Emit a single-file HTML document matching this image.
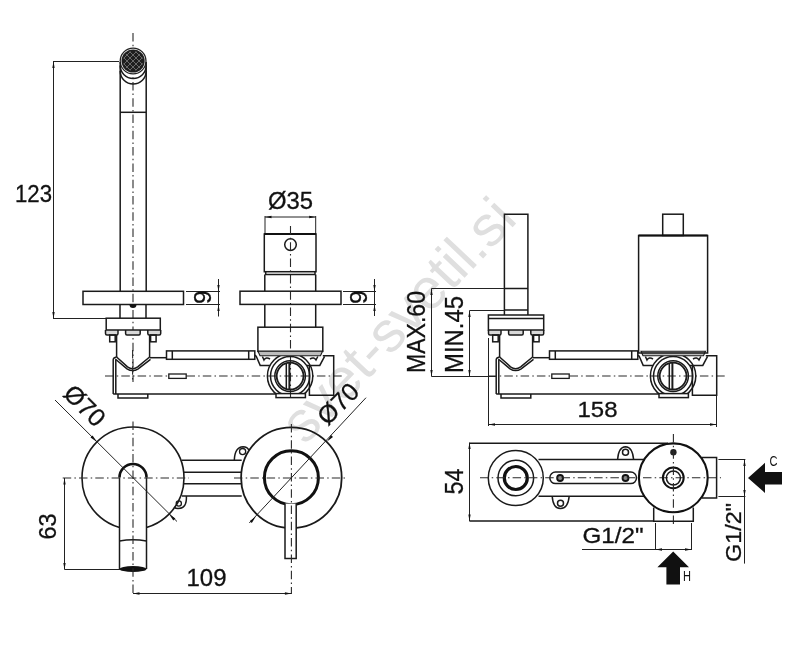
<!DOCTYPE html>
<html><head><meta charset="utf-8">
<style>
html,body{margin:0;padding:0;background:#fff;}
body{width:796px;height:649px;overflow:hidden;}
svg{display:block;filter:grayscale(1);}
.o{stroke:#1a1a1a;stroke-width:1.5;fill:none;}
.t{stroke:#1c1c1c;stroke-width:2.4;fill:none;}
.d{stroke:#222;stroke-width:1;fill:none;}
.c{stroke:#2a2a2a;stroke-width:1.1;fill:none;stroke-dasharray:8.5 3.2 1.5 3.1;}
.a{fill:#111;stroke:none;}
text{font-family:"Liberation Sans",sans-serif;fill:#111;stroke:#111;stroke-width:0.3;}
.wm{font-family:"Liberation Sans",sans-serif;fill:#dfdfdf;stroke:none;}
</style></head>
<body>
<svg width="796" height="649" viewBox="0 0 796 649">
<defs><clipPath id="aclip"><circle cx="133.1" cy="61" r="10"/></clipPath><clipPath id="vclip"><rect x="260" y="356" width="60" height="38"/></clipPath></defs>
<rect x="0" y="0" width="796" height="649" fill="#fff"/>

<!-- watermark -->
<text class="wm" x="0" y="0" font-size="57" transform="translate(305,446) rotate(-46.5)">svet-svetil.si</text>

<!-- ================= FRONT VIEW : SPOUT ================= -->
<g id="spout">
  <!-- 123 dimension -->
  <line class="d" x1="53.5" y1="62" x2="53.5" y2="318"/>
  <line class="d" x1="53" y1="61.5" x2="119" y2="61.5"/>
  <line class="d" x1="53" y1="318.5" x2="106" y2="318.5"/>
  <path class="a" d="M53.5 61.5 L52.35 68.00 L54.65 68.00 Z"/>
  <path class="a" d="M53.5 318.5 L52.35 312.00 L54.65 312.00 Z"/>
  <text x="15" y="201.5" font-size="23" textLength="37" lengthAdjust="spacingAndGlyphs">123</text>
  <!-- centerline -->
  <line class="c" x1="133" y1="33" x2="133" y2="382"/>
  <!-- aerator -->
  <circle cx="133.1" cy="61" r="12.9" fill="#fff" stroke="#222" stroke-width="1.3"/>
  <circle cx="133.1" cy="61" r="11.6" fill="#1e1e1e"/>
  <g clip-path="url(#aclip)" stroke="#8a8a8a" stroke-width="0.7">
    <path d="M110 50 L145 85 M113 47 L148 82 M116 44 L151 79 M119 41 L154 76 M122 38 L157 73 M107 53 L142 88 M104 56 L139 91 M101 59 L136 94 M125 35 L160 70"/>
    <path d="M156 50 L121 85 M153 47 L118 82 M150 44 L115 79 M147 41 L112 76 M144 38 L109 73 M159 53 L124 88 M162 56 L127 91 M165 59 L130 94 M141 35 L106 70"/>
  </g>
  
  <path class="o" d="M120.2 62 L120.2 291 M146.2 62 L146.2 291"/>
  <path class="o" d="M120.2 65.5 A13 13 0 0 0 146.2 65.5"/>
  <path class="o" d="M120.2 71 A13 13 0 0 0 146.2 71"/>
  <line class="o" x1="120" y1="112.3" x2="146" y2="112.3"/>
  <!-- plate -->
  <rect class="o" x="83" y="291.3" width="100.5" height="13.2"/>
  <path class="a" d="M129.5 304.5 A3.5 3.5 0 0 0 136.5 304.5 Z"/>
  <path class="o" d="M120 304.5 L120 318 M146 304.5 L146 318"/>
  <!-- 9 dim -->
  <path class="d" d="M186 291.5 L220 291.5 M186 304.5 L220 304.5 M218.5 279 L218.5 316.5"/>
  <path class="a" d="M218.5 291.5 L217.35 285.00 L219.65 285.00 Z M218.5 304.5 L217.35 311.00 L219.65 311.00 Z"/>
  <text x="0" y="0" font-size="24.5" transform="translate(211,304) rotate(-90)">9</text>
</g>

<!-- ================= FRONT VIEW : HANDLE ================= -->
<g id="handle">
  <text x="268" y="208.7" font-size="23" textLength="45" lengthAdjust="spacingAndGlyphs">Ø35</text>
  <path class="d" d="M265 216 L265 234 M315.7 216 L315.7 234 M265 217 L315.7 217"/>
  <path class="a" d="M265 217 L271.5 215.85 L271.5 218.15 Z M315.7 217 L309.2 215.85 L309.2 218.15 Z"/>
  <rect class="o" x="264.3" y="234" width="51.7" height="37.7"/>
  <line x1="264.3" y1="234" x2="316" y2="234" stroke="#111" stroke-width="2"/>
  <circle class="o" cx="290.5" cy="244.6" r="5.8"/>
  <line class="c" x1="290.5" y1="226" x2="290.5" y2="398"/>
  <path class="o" d="M265.7 271.7 L265.7 274.5 L315 274.5 L315 271.7"/>
  <path class="o" d="M264.8 274.5 L264.8 291.2 M315.7 274.5 L315.7 291.2 M264.8 304.4 L264.8 327.2 M315.7 304.4 L315.7 327.2"/>
  <rect class="o" x="240" y="291.2" width="101" height="13.2"/>
  <path class="d" d="M343 291.5 L376 291.5 M343 304.5 L376 304.5 M374.5 279 L374.5 316"/>
  <path class="a" d="M374.5 291.5 L373.35 285.00 L375.65 285.00 Z M374.5 304.5 L373.35 311.00 L375.65 311.00 Z"/>
  <text x="0" y="0" font-size="24.5" transform="translate(367,304) rotate(-90)">9</text>
  <rect class="o" x="257.9" y="327.2" width="64.9" height="24.2"/>
</g>


<!-- ================= SHARED BODY (front view coords) ================= -->
<g id="body">
  <!-- nuts -->
  <path fill="#d8d8d8" stroke="#1a1a1a" stroke-width="1.5" d="M105.5 330 L105.5 333.5 Q105.5 335 107 335 L116.5 335 Q118 335 118 333.5 L118 330"/>
  <path fill="#d8d8d8" stroke="#1a1a1a" stroke-width="1.5" d="M125.6 330 L125.6 333.5 Q125.6 335 127 335 L138.8 335 Q140.2 335 140.2 333.5 L140.2 330"/>
  <path fill="#d8d8d8" stroke="#1a1a1a" stroke-width="1.5" d="M147.8 330 L147.8 333.5 Q147.8 335 149.3 335 L159.2 335 Q160.7 335 160.7 333.5 L160.7 330"/>
  <rect class="o" x="109.7" y="335" width="5.5" height="6.8"/>
  <rect class="o" x="150.6" y="335" width="5.5" height="6.8"/>
  <path class="o" d="M116.6 335 L116.6 357 M149.6 335 L149.6 357"/>
  <!-- V -->
  <path class="o" d="M116.6 357 L127.5 366.8 Q132.6 370.5 137.7 366.8 L149.6 357"/>
  <path class="o" d="M115.3 359 L127 368.8 Q132.6 372.3 138.2 368.8 L150.5 359.3"/>
  <path class="o" d="M149.6 357.7 L166.5 357.7"/>
  <line class="c" x1="105" y1="376" x2="343" y2="376"/>
  <!-- bar -->
  <rect class="o" x="166.5" y="350.9" width="88.3" height="8.4"/>
  <path class="o" d="M172.3 350.9 L172.3 359.3 M248.7 350.9 L248.7 359.3"/>
  <rect x="168.8" y="374" width="17.4" height="4.4" fill="#fff" stroke="#1c1c1c" stroke-width="1.3"/>
  <!-- left wall -->
  <path class="o" d="M113.2 394 L113.2 359.5 Q113.5 357.5 116.6 357 M115.8 394 L115.8 360"/>
  <!-- bottom -->
  <path class="o" d="M113.2 394 L276 394"/>
  <path class="o" d="M118 394 L118 398 L147.8 398 L147.8 394"/>
  <!-- centerline -->
  <!-- valve -->
  <path d="M258 351.3 L322.5 351.3 L320.5 355.8 L260 355.8 Z" fill="#bdbdbd" stroke="#1c1c1c" stroke-width="1.1"/>
  <path class="o" d="M254.8 355.2 L256.2 356.3 L260.2 365.4 L270 365.4 M262.4 356.5 L264 360 Q266 356.5 270 359"/>
  <path class="o" d="M324.6 356.3 L319.8 365.4 L307 365.4 M317.8 356.5 L316 360 Q314 356.5 310 359"/>
  <g clip-path="url(#vclip)"><circle class="o" cx="290.1" cy="376.1" r="22.7"/><circle class="o" cx="290.1" cy="376.1" r="19.6"/></g>
  <circle class="o" cx="290.1" cy="376.1" r="15.3"/>
  <circle cx="290.1" cy="376.1" r="13.4" fill="none" stroke="#1c1c1c" stroke-width="1.8"/>
  <path class="o" d="M286.3 363 L286.3 389.3"/>
  <path d="M289.4 363 L289.4 389.3" stroke="#1c1c1c" stroke-width="2"/>
  <path class="o" d="M322.8 355.7 L333.7 355.7 L333.7 395.3 L309.4 395.3 L309.4 366"/>
  <rect class="o" x="276" y="393.6" width="29.4" height="4"/>
</g>

<!-- front base block -->
<line class="c" x1="132.6" y1="350" x2="132.6" y2="382"/>
<rect class="o" x="106.2" y="318.2" width="54.1" height="11.8"/>

<!-- ================= SIDE VIEW ================= -->
<use href="#body" transform="translate(383,0)"/>
<g id="side">
  <path class="o" d="M504.4 315 L504.4 214.2 L527.9 214.2 L527.9 315 M504.4 288.4 L527.9 288.4 M504.4 310 L527.9 310"/>
  <rect class="o" x="488.4" y="315" width="55.3" height="15"/>
  <line class="o" x1="488.4" y1="318.6" x2="543.7" y2="318.6"/>
  <rect class="o" x="662.7" y="214.2" width="20.6" height="21.3"/>
  <rect class="o" x="638.6" y="235.5" width="69" height="117.5"/>
  <line x1="638.6" y1="235.5" x2="707.6" y2="235.5" stroke="#111" stroke-width="2"/>
  <!-- MAX / MIN dims -->
  <path class="d" d="M431.5 288.5 L504.4 288.5 M469.5 310.5 L504.4 310.5 M431.5 288.5 L431.5 376.5 M469.5 310.5 L469.5 376.5 M431.5 376.5 L496 376.5"/>
  <path class="a" d="M431.5 288.5 L430.35 295.00 L432.65 295.00 Z M469.5 310.5 L468.35 317.00 L470.65 317.00 Z M431.5 376.5 L430.35 370.00 L432.65 370.00 Z M469.5 376.5 L468.35 370.00 L470.65 370.00 Z"/>
  <text x="0" y="0" font-size="26" transform="translate(424.5,373) rotate(-90)" textLength="82" lengthAdjust="spacingAndGlyphs">MAX.60</text>
  <text x="0" y="0" font-size="26" transform="translate(462.5,373) rotate(-90)" textLength="77" lengthAdjust="spacingAndGlyphs">MIN.45</text>
  <!-- 158 -->
  <path class="d" d="M488.5 338 L488.5 426 M716.5 396 L716.5 427 M488.5 424.5 L716.5 424.5"/>
  <path class="a" d="M488.5 424.5 L495.00 423.35 L495.00 425.65 Z M716.5 424.5 L710.00 423.35 L710.00 425.65 Z"/>
  <text x="577.5" y="417" font-size="22.5" textLength="40" lengthAdjust="spacingAndGlyphs">158</text>
</g>

<!-- ================= PLAN VIEW LEFT ================= -->
<g id="planL">
  <circle cx="133" cy="478" r="51" fill="none" stroke="#1a1a1a" stroke-width="1.6"/>
  <circle cx="291.4" cy="477.7" r="50.3" fill="none" stroke="#1a1a1a" stroke-width="1.8"/>
  <circle cx="291.4" cy="477.7" r="27" fill="none" stroke="#111" stroke-width="3"/>
  <!-- bars between -->
  <path class="o" d="M181.6 460.2 L241.7 460.2 M183.8 472.3 L241 472.3 M183.8 483.8 L241 483.8 M182 496.1 L241.7 496.1"/>
  <!-- lugs -->
  <path class="o" d="M234.3 460.2 Q234.8 447 243 446.7 Q247.5 446.8 248.8 450"/>
  <circle cx="242.6" cy="451.6" r="3.1" fill="none" stroke="#1a1a1a" stroke-width="1.3"/>
  <path class="o" d="M186.4 496.1 Q187 508.6 178 508.6 Q175.5 508.6 174.3 507.2"/>
  <circle cx="178.8" cy="503.5" r="2.6" fill="none" stroke="#1a1a1a" stroke-width="1.3"/>
  <!-- spout top view -->
  <path d="M119.5 569 L119.5 477.5 A13.5 13.5 0 0 1 146.5 477.5 L146.5 569 Z" fill="#fff" stroke="none"/>
  <path d="M119.5 477.5 A13.5 13.5 0 0 1 146.5 477.5" fill="none" stroke="#111" stroke-width="2.6"/>
  <path class="o" d="M119.5 477.5 L119.5 569 M146.5 477.5 L146.5 569"/>
  <path class="o" d="M119.5 541 Q133 538.5 146.5 541"/>
  <ellipse cx="133" cy="569" rx="13.5" ry="3" fill="#111"/>
  <!-- lever -->
  <path d="M285 503.6 L285 558.6 L296.2 558.6 L296.2 503.6" fill="#fff" stroke="#1a1a1a" stroke-width="1.5"/>
  <!-- centerlines -->
  <line class="c" x1="62.7" y1="478" x2="189" y2="478"/>
  <line class="c" x1="234" y1="478" x2="345" y2="478"/>
  <line class="c" x1="133" y1="421.5" x2="133" y2="594"/>
  <line class="c" x1="291.4" y1="424" x2="291.4" y2="594"/>
  <!-- 63 dim -->
  <path class="d" d="M64.5 478 L64.5 569.5 M64.5 569.5 L120 569.5"/>
  <path class="a" d="M64.5 478.0 L63.35 484.50 L65.65 484.50 Z M64.5 569.5 L63.35 563.00 L65.65 563.00 Z"/>
  <text x="0" y="0" font-size="23.5" transform="translate(56,539.5) rotate(-90)" textLength="26" lengthAdjust="spacingAndGlyphs">63</text>
  <!-- 109 dim -->
  <path class="d" d="M133 593.5 L291.4 593.5"/>
  <path class="a" d="M133.0 593.5 L139.50 592.35 L139.50 594.65 Z M291.4 593.5 L284.90 592.35 L284.90 594.65 Z"/>
  <text x="186.5" y="585.5" font-size="23.5" textLength="40" lengthAdjust="spacingAndGlyphs">109</text>
  <!-- diameter left -->
  <line class="d" x1="55" y1="400" x2="177" y2="521.5"/>
  <path class="a" d="M97.0 442.0 L90.5 437.6 L92.6 435.5 Z M169.0 514.0 L175.4 518.4 L173.3 520.5 Z"/>
  <text x="0" y="0" font-size="25" transform="translate(62,395) rotate(45)">Ø70</text>
  <!-- diameter right -->
  <line class="d" x1="249.3" y1="523" x2="366" y2="397.7"/>
  <path class="a" d="M327.0 441.5 L333.0 437.0 L331.0 435.0 Z M255.8 516.5 L249.8 521.0 L251.8 523.0 Z"/>
  <text x="0" y="0" font-size="25" transform="translate(327.5,426.5) rotate(-45)">Ø70</text>
</g>

<!-- ================= PLAN VIEW RIGHT ================= -->
<g id="planR">
  <path class="d" d="M469.5 442.6 L469.5 521"/>
  <path class="a" d="M469.5 442.6 L468.35 449.10 L470.65 449.10 Z M469.5 521.0 L468.35 514.50 L470.65 514.50 Z"/>
  <text x="0" y="0" font-size="25" transform="translate(463,494.5) rotate(-90)" textLength="26" lengthAdjust="spacingAndGlyphs">54</text>
  <path class="o" d="M469.4 443.3 L668 443.3 M469.4 521.1 L653.7 521.1"/>
  <circle class="o" cx="515.8" cy="478" r="27.5"/>
  <circle class="o" cx="515.8" cy="478" r="17.8"/>
  <circle cx="515.8" cy="478" r="11.5" fill="none" stroke="#111" stroke-width="3.2"/>
  <path class="o" d="M538.5 459.5 L645 459.5 M538.5 496.2 L645 496.2"/>
  <rect class="o" x="549.8" y="472.1" width="86.7" height="11.5" rx="5.75"/>
  <circle cx="560.1" cy="478" r="3" fill="#8a8a8a" stroke="#111" stroke-width="1.8"/>
  <circle cx="625.5" cy="478" r="3" fill="#8a8a8a" stroke="#111" stroke-width="1.8"/>
  <path class="o" d="M617.6 459.5 Q618.5 447 625.5 446.7 Q632.5 447 633.6 459.5"/>
  <circle class="o" cx="625.5" cy="452.3" r="3"/>
  <path class="o" d="M552.2 496.2 Q553 508.5 560.5 508.5 Q568 508.5 569.2 496.2"/>
  <circle class="o" cx="560.5" cy="503.2" r="3"/>
  <line class="c" x1="480" y1="477.8" x2="721" y2="477.8"/>
  <circle cx="673.3" cy="477.8" r="34.4" fill="none" stroke="#111" stroke-width="2.1"/>
  <circle cx="673.3" cy="477.8" r="10.4" fill="none" stroke="#111" stroke-width="2"/>
  <circle class="o" cx="673.4" cy="478" r="7"/>
  <circle cx="673.4" cy="452.3" r="3.2" fill="#222"/>
  <line class="c" x1="673.4" y1="434" x2="673.4" y2="525"/>
  <path class="o" d="M702 457.5 L716.6 457.5 L716.6 498 L702 498"/>
  <path class="o" d="M653.7 507.5 L653.7 521.2 L693.3 521.2 L693.3 507.5"/>
  <!-- H dim -->
  <path class="d" d="M655.5 523 L655.5 550 M691.5 523 L691.5 550 M582 549.5 L692 549.5"/>
  <path class="a" d="M655.5 549.5 L662.00 548.35 L662.00 550.65 Z M691.5 549.5 L685.00 548.35 L685.00 550.65 Z"/>
  <text x="582.5" y="542.8" font-size="21.5" textLength="61" lengthAdjust="spacingAndGlyphs">G1/2"</text>
  <!-- C dim -->
  <path class="d" d="M718.4 459.5 L745.4 459.5 M718.4 496.5 L745.4 496.5 M744.5 459.5 L744.5 563.6"/>
  <path class="a" d="M744.5 459.5 L743.35 466.00 L745.65 466.00 Z M744.5 496.5 L743.35 490.00 L745.65 490.00 Z"/>
  <text x="0" y="0" font-size="22.5" transform="translate(740.5,562) rotate(-90)" textLength="59" lengthAdjust="spacingAndGlyphs">G1/2"</text>
  <!-- arrows -->
  <path class="a" d="M748 478 L765 462.8 L765 472 L782 472 L782 484.5 L765 484.5 L765 492.9 Z"/>
  <text x="769.6" y="465.5" font-size="15.5" style="stroke:none" textLength="8" lengthAdjust="spacingAndGlyphs">C</text>
  <path class="a" d="M673.2 551.6 L689 567.2 L680 567.2 L680 584.5 L666.4 584.5 L666.4 567.2 L657.4 567.2 Z"/>
  <text x="683" y="580.8" font-size="14" style="stroke:none" textLength="8" lengthAdjust="spacingAndGlyphs">H</text>
</g>

</svg>
</body></html>
